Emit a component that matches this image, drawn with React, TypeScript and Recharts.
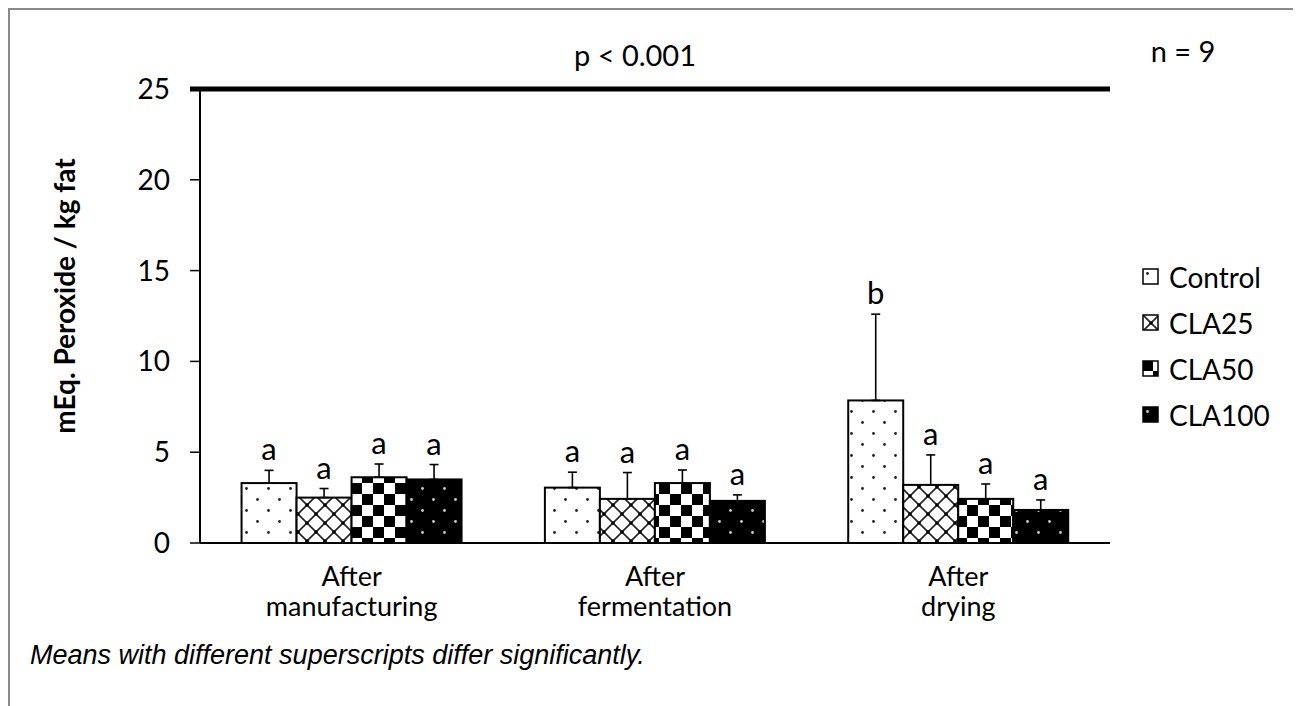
import React from 'react';
import { BarChart, Bar, XAxis, YAxis, ErrorBar, ReferenceLine, Legend } from 'recharts';

const categories = ['After manufacturing', 'After fermentation', 'After drying'];
const catLine1 = ['After', 'After', 'After'];
const catLine2 = ['manufacturing', 'fermentation', 'drying'];

const seriesNames = ['Control', 'CLA25', 'CLA50', 'CLA100'];
const control = [3.3, 3.05, 7.85];
const controlSD = [0.7, 0.85, 4.75];
const cla25 = [2.5, 2.43, 3.2];
const cla25SD = [0.5, 1.45, 1.65];
const cla50 = [3.62, 3.3, 2.43];
const cla50SD = [0.73, 0.72, 0.82];
const cla100 = [3.5, 2.32, 1.82];
const cla100SD = [0.82, 0.33, 0.55];

const controlLetters = ['a', 'a', 'b'];
const cla25Letters = ['a', 'a', 'a'];
const cla50Letters = ['a', 'a', 'a'];
const cla100Letters = ['a', 'a', 'a'];

const yTicks = [0, 5, 10, 15, 20, 25];

const data = categories.map((c, i) => ({
  category: c,
  Control: control[i],
  ControlErr: [0, controlSD[i]],
  ControlLetter: controlLetters[i],
  CLA25: cla25[i],
  CLA25Err: [0, cla25SD[i]],
  CLA25Letter: cla25Letters[i],
  CLA50: cla50[i],
  CLA50Err: [0, cla50SD[i]],
  CLA50Letter: cla50Letters[i],
  CLA100: cla100[i],
  CLA100Err: [0, cla100SD[i]],
  CLA100Letter: cla100Letters[i],
}));

const FONT = 'Lato, "Open Sans", sans-serif';
const patternIds: Record<string, string> = {
  Control: 'pat-control',
  CLA25: 'pat-cla25',
  CLA50: 'pat-cla50',
  CLA100: 'pat-cla100',
};

const makeShape = (key: string) => (props: any) => {
  const { x, y, width, height, payload } = props;
  const val = payload[key];
  const sd = payload[key + 'Err'][1];
  const letter = payload[key + 'Letter'];
  const ppu = val ? height / val : 0;
  const top = y - sd * ppu;
  return (
    <g>
      <rect x={x} y={y} width={width} height={height} fill={`url(#${patternIds[key]})`} stroke="#000" strokeWidth={2} />
      <text x={x + width / 2} y={top - 10} textAnchor="middle" fontFamily={FONT} fontSize={31} fill="#000">
        {letter}
      </text>
    </g>
  );
};

const CategoryTick = (props: any) => {
  const { x, y, index } = props;
  return (
    <g>
      <text x={x} y={y + 43} textAnchor="middle" fontFamily={FONT} fontSize={27} fill="#000">
        {catLine1[index]}
      </text>
      <text x={x} y={y + 73} textAnchor="middle" fontFamily={FONT} fontSize={27} fill="#000">
        {catLine2[index]}
      </text>
    </g>
  );
};

const LegendContent = () => (
  <div style={{ fontFamily: FONT, fontSize: 28, color: '#000' }}>
    {seriesNames.map((n) => (
      <div key={n} style={{ height: 46, display: 'flex', alignItems: 'center' }}>
        <svg width={18} height={18} style={{ marginRight: 9 }}>
          <rect x={1} y={1} width={15} height={15} fill={`url(#${patternIds[n]})`} stroke="#000" strokeWidth={1.5} />
        </svg>
        <span>{n}</span>
      </div>
    ))}
  </div>
);

const YLabel = (props: any) => {
  const vb = props.viewBox || { x: 0, y: 0, width: 0, height: 0 };
  const cx = vb.x + 54;
  const cy = 286;
  return (
    <text
      x={cx}
      y={cy}
      transform={`rotate(-90 ${cx} ${cy})`}
      textAnchor="middle"
      dominantBaseline="central"
      fontFamily={FONT}
      fontWeight="bold"
      fontSize={28}
      fill="#000"
    >
      mEq. Peroxide / kg fat
    </text>
  );
};

export default function App() {
  return (
    <div
      style={{
        position: 'relative',
        width: 1283,
        height: 720,
        border: '2px solid #8a8a8a',
        background: '#fff',
        fontFamily: FONT,
      }}
    >
      <BarChart
        width={1283}
        height={700}
        data={data}
        margin={{ top: 79, right: 183, bottom: 87, left: 0 }}
        barCategoryGap="13.7%"
        barGap={0}
      >
        <defs>
          <pattern id="pat-control" patternUnits="userSpaceOnUse" width={22} height={22}>
            <rect x={0} y={0} width={22} height={22} fill="#fff" />
            <circle cx={5.5} cy={5.5} r={1.4} fill="#222" />
            <circle cx={16.5} cy={16.5} r={1.4} fill="#222" />
          </pattern>
          <pattern id="pat-cla25" patternUnits="userSpaceOnUse" width={18} height={18}>
            <rect x={0} y={0} width={18} height={18} fill="#fff" />
            <path d="M0,0 L18,18 M18,0 L0,18 M-4.5,4.5 L4.5,-4.5 M13.5,22.5 L22.5,13.5" stroke="#222" strokeWidth={1.6} />
            <circle cx={9} cy={9} r={1.8} fill="#000" />
            <circle cx={0} cy={0} r={1.8} fill="#000" />
            <circle cx={18} cy={0} r={1.8} fill="#000" />
            <circle cx={0} cy={18} r={1.8} fill="#000" />
            <circle cx={18} cy={18} r={1.8} fill="#000" />
          </pattern>
          <pattern id="pat-cla50" patternUnits="userSpaceOnUse" width={22} height={22}>
            <rect x={0} y={0} width={22} height={22} fill="#fff" />
            <rect x={0} y={0} width={11} height={11} fill="#000" />
            <rect x={11} y={11} width={11} height={11} fill="#000" />
          </pattern>
          <pattern id="pat-cla100" patternUnits="userSpaceOnUse" width={22} height={22}>
            <rect x={0} y={0} width={22} height={22} fill="#000" />
            <circle cx={5.5} cy={5.5} r={1.4} fill="#ccc" />
            <circle cx={16.5} cy={16.5} r={1.4} fill="#ccc" />
          </pattern>
        </defs>
        <XAxis
          dataKey="category"
          tick={<CategoryTick />}
          tickLine={false}
          tickSize={0}
          tickMargin={0}
          axisLine={{ stroke: '#000', strokeWidth: 2 }}
          height={80}
          interval={0}
        />
        <YAxis
          domain={[0, 25]}
          ticks={yTicks}
          width={190}
          tickSize={10}
          tickMargin={20}
          tick={{ fontFamily: FONT, fontSize: 28, fill: '#000' }}
          tickLine={{ stroke: '#000', strokeWidth: 1.5 }}
          axisLine={{ stroke: '#000', strokeWidth: 2 }}
          label={<YLabel />}
          allowDataOverflow
        />
        <ReferenceLine
          y={25}
          ifOverflow="visible"
          shape={(p: any) => (
            <line x1={p.x1 - 10} y1={p.y1} x2={p.x2} y2={p.y2} stroke="#000" strokeWidth={5} />
          )}
        />
        {seriesNames.map((n) => (
          <Bar key={n} dataKey={n} isAnimationActive={false} shape={makeShape(n)} fill={`url(#${patternIds[n]})`}>
            <ErrorBar dataKey={n + 'Err'} width={4.5} stroke="#000" strokeWidth={1.6} direction="y" />
          </Bar>
        ))}
        <Legend
          content={<LegendContent />}
          layout="vertical"
          align="center"
          verticalAlign="middle"
          wrapperStyle={{ left: 1132, top: 244, width: 150, right: 'auto', bottom: 'auto' }}
        />
      </BarChart>
      <div style={{ position: 'absolute', left: 475, top: 29, width: 300, textAlign: 'center', fontSize: 29, lineHeight: '32px' }}>
        p &lt; 0.001
      </div>
      <div style={{ position: 'absolute', left: 1073, top: 25, width: 200, textAlign: 'center', fontSize: 29, lineHeight: '32px' }}>
        n = 9
      </div>
      <div
        style={{
          position: 'absolute',
          left: 20,
          top: 630,
          fontFamily: '"Liberation Sans", Arial, sans-serif',
          fontStyle: 'italic',
          fontSize: 27,
          lineHeight: '30px',
          whiteSpace: 'nowrap',
        }}
      >
        Means with different superscripts differ significantly.
      </div>
    </div>
  );
}
